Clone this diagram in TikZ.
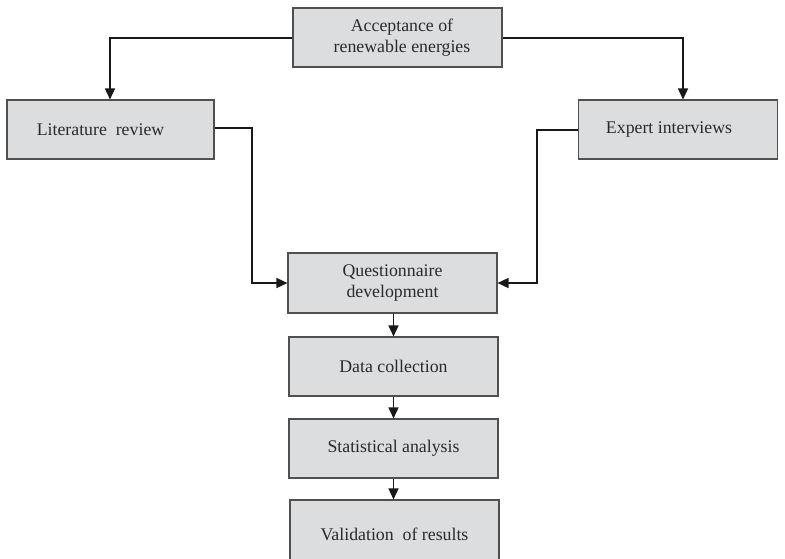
\documentclass[tikz,border=0pt]{standalone}
\usepackage{fontspec}
\setmainfont{Liberation Serif}
\usetikzlibrary{arrows.meta}
\definecolor{boxfill}{HTML}{DCDDDF}
\definecolor{boxline}{HTML}{505050}
\definecolor{textcol}{HTML}{2A2A2A}
\begin{document}
\begin{tikzpicture}[x=1pt,y=-1pt,
  box/.style={draw=boxline,line width=1.1pt,fill=boxfill,text=textcol,font=\fontsize{17.8}{21}\selectfont,align=center,inner sep=0pt},
  conn/.style={line width=1.5pt,draw=black!90,-{Triangle[length=11pt,width=10pt]}}]
\useasboundingbox (0,0) rectangle (785,558);
\clip (0,0) rectangle (785,558);
\node[box,minimum width=209,minimum height=59] (top) at (397.5,37.5) {\hspace*{9pt}Acceptance of\\\hspace*{9pt}renewable energies};
\node[box,minimum width=207,minimum height=59] (lit) at (110.5,129.5) {\hspace*{-20pt}Literature\ \ review};
\node[box,minimum width=199,minimum height=59] (exp) at (678,129.5) {\hspace*{-18pt}Expert interviews};
\node[box,minimum width=209,minimum height=60] (que) at (392.5,283) {Questionnaire\\development};
\node[box,minimum width=209,minimum height=59] (dat) at (393.5,366.5) {Data collection};
\node[box,minimum width=209,minimum height=59] (sta) at (393.5,448.5) {Statistical analysis};
\node[box,minimum width=209,minimum height=68] (val) at (394.5,534) {Validation\ \ of results};
\coordinate (tl) at (110,38);
\coordinate (tr) at (683,38);
\coordinate (ll) at (252,128);
\coordinate (el) at (537,130);
\draw[conn] (top.west |- tl) -| (lit.north -| tl);
\draw[conn] (top.east |- tr) -| (exp.north -| tr);
\draw[conn] (lit.east |- ll) -| (ll |- que.west) -- (que.west);
\draw[conn] (exp.west |- el) -| (el |- que.east) -- (que.east);
\draw[conn] (que.south -| dat.north) -- (dat.north);
\draw[conn] (dat.south) -- (sta.north);
\draw[conn] (sta.south) -- (sta.south |- val.north);
\end{tikzpicture}
\end{document}
